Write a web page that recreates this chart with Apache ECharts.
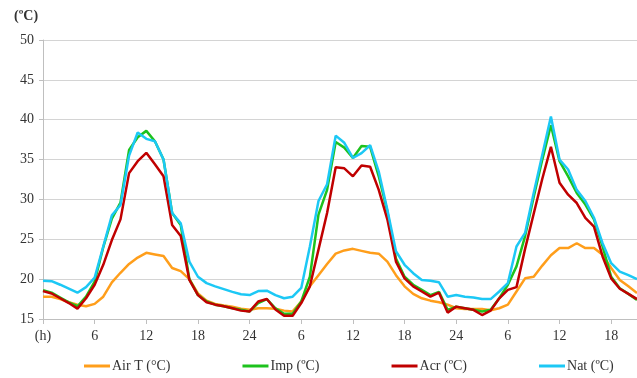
<!DOCTYPE html>
<html>
<head>
<meta charset="utf-8">
<script src="https://cdn.jsdelivr.net/npm/echarts@6/dist/echarts.min.js"></script>
<style>
html,body{margin:0;padding:0;background:#fff;}
#c{width:637px;height:378px;}
</style>
</head>
<body>
<div id="c"></div>
<script>
// hourly index 0..69
const hours = Array.from({length:70}, (_, i) => i);
// tick labels shown every 6 hours
const tickLabels = ['(h)','6','12','18','24','6','12','18','24','6','12','18'];

const airT = [17.8,17.8,17.5,17.1,16.8,16.6,16.9,17.8,19.6,20.8,21.9,22.7,23.3,23.1,22.9,21.4,21.0,20.0,18.2,17.3,
  16.9,16.7,16.55,16.3,16.15,16.35,16.35,16.3,16.05,15.95,17.2,19.1,20.5,21.9,23.2,23.6,23.8,23.55,23.3,23.2,
  22.2,20.5,19.1,18.15,17.6,17.3,17.1,16.8,16.35,16.25,16.25,16.25,16.1,16.35,16.8,18.45,20.1,20.3,21.7,23.0,
  23.9,23.9,24.5,23.9,23.9,23.05,21.4,19.9,19.1,18.25];
const imp = [18.6,18.3,17.7,17.1,16.6,17.8,19.7,24.0,27.6,29.6,36.2,37.8,38.6,37.3,35.0,28.3,26.8,20.0,18.0,17.2,
  16.8,16.6,16.35,16.15,15.95,17.0,17.5,16.35,15.65,15.65,17.2,20.3,28.1,31.2,37.2,36.5,35.2,36.7,36.6,32.9,
  28.5,22.6,20.3,19.3,18.65,18.0,18.4,16.15,16.55,16.35,16.15,15.95,16.15,17.6,19.3,21.6,25.4,30.3,35.0,39.3,
  34.8,32.9,30.8,29.35,27.5,24.1,20.3,18.85,18.15,17.4];
const acr = [18.5,18.2,17.6,17.0,16.3,17.6,19.3,21.8,24.9,27.5,33.3,34.8,35.85,34.4,32.9,26.8,25.4,19.9,18.0,17.1,
  16.8,16.6,16.35,16.05,15.95,17.2,17.5,16.2,15.4,15.4,17.0,19.1,23.7,28.3,34.05,33.9,32.9,34.25,34.1,31.2,
  27.5,22.2,20.1,19.1,18.45,17.8,18.3,15.8,16.55,16.35,16.15,15.5,16.05,17.6,18.65,19.0,23.8,28.2,32.6,36.6,
  32.1,30.6,29.55,27.7,26.6,22.85,20.1,18.8,18.15,17.5];
const nat = [19.8,19.75,19.3,18.8,18.3,19.0,20.2,24.1,28.0,29.3,35.5,38.4,37.6,37.3,35.0,28.3,27.0,22.2,20.3,19.5,
  19.1,18.75,18.4,18.1,18.0,18.5,18.55,18.0,17.6,17.8,18.9,24.1,29.8,31.9,38.0,37.1,35.2,35.8,36.8,33.5,
  28.7,23.5,21.8,20.75,19.9,19.8,19.6,17.8,18.0,17.8,17.7,17.5,17.5,18.45,19.5,24.1,25.8,30.8,35.6,40.4,
  35.0,33.75,31.2,29.8,27.7,24.5,22.0,20.95,20.5,20.0];

const seriesNames = ['Air T (°C)','Imp (ºC)','Acr (ºC)','Nat (ºC)'];
const seriesColors = ['#FF9E1B','#1DC21D','#C00000','#1CC8F5'];
const seriesData = [airT, imp, acr, nat];

const font = '"Liberation Serif","Times New Roman",serif';
const chart = echarts.init(document.getElementById('c'), null, {renderer:'canvas'});
chart.setOption({
  animation:false,
  backgroundColor:'#fff',
  title:{text:'(ºC)', left:9, top:4, textStyle:{fontFamily:font, fontSize:14, fontWeight:'bold', color:'#333'}},
  grid:{left:43, right:0, top:40, bottom:59, containLabel:false},
  legend:{
    left:84, top:359, padding:0, itemGap:72, itemWidth:26, itemHeight:3, icon:'rect',
    textStyle:{fontFamily:font, fontSize:14, color:'#333', padding:[0,0,0,-3]},
    data:seriesNames
  },
  xAxis:{
    type:'category', data:hours, boundaryGap:false,
    axisLine:{lineStyle:{color:'#bfbfbf', width:1}},
    axisTick:{show:true, interval:5, length:5, lineStyle:{color:'#bfbfbf'}},
    axisLabel:{interval:5, margin:10, fontFamily:font, fontSize:14, color:'#333',
      formatter:(v, i) => tickLabels[Math.round(i/6)] || ''},
    splitLine:{show:false}
  },
  yAxis:{
    type:'value', min:15, max:50, interval:5,
    axisLine:{show:true, lineStyle:{color:'#bfbfbf', width:1}},
    axisTick:{show:true, length:4, lineStyle:{color:'#bfbfbf'}},
    axisLabel:{margin:9, fontFamily:font, fontSize:14, color:'#333'},
    splitLine:{lineStyle:{color:'#d4d4d4', width:1}}
  },
  series: seriesNames.map((n, k) => ({
    name:n, type:'line', data:seriesData[k], symbol:'none', smooth:false,
    lineStyle:{color:seriesColors[k], width:2.5}, itemStyle:{color:seriesColors[k]}
  }))
});
</script>
</body>
</html>
